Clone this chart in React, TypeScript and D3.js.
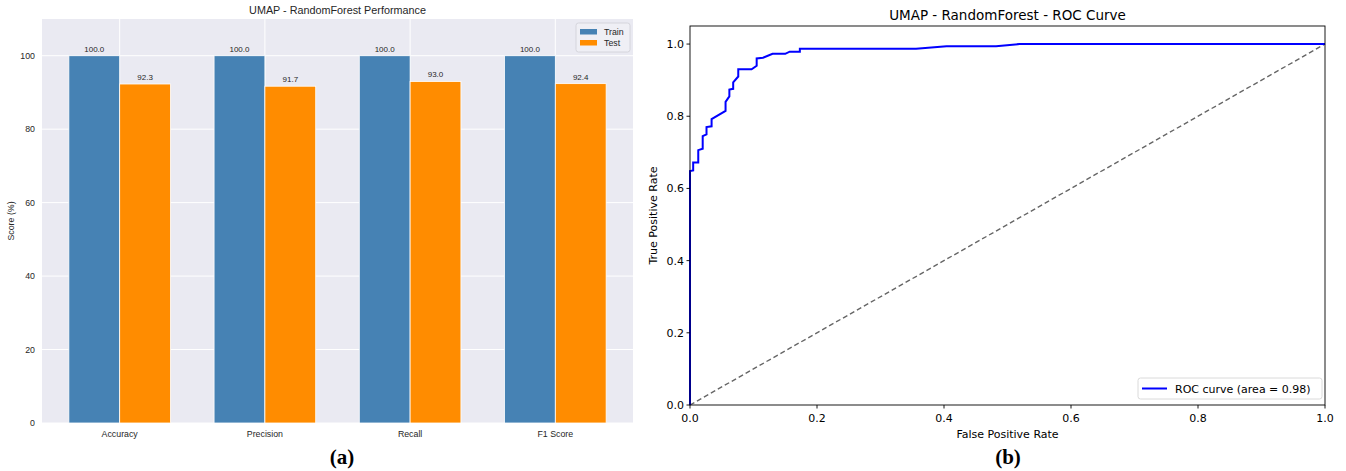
import React from "react";
import * as d3 from "d3";

// ---------- Data ----------
const categories = ["Accuracy", "Precision", "Recall", "F1 Score"];
const trainScores = [100.0, 100.0, 100.0, 100.0];
const testScores = [92.3, 91.7, 93.0, 92.4];
const scoreTicks = [0, 20, 40, 60, 80, 100];

const rocFpr = [0, 0, 0.005, 0.005, 0.013, 0.013, 0.02, 0.02, 0.026, 0.026, 0.034, 0.034, 0.056, 0.056, 0.062, 0.062, 0.068, 0.068, 0.076, 0.076, 0.097, 0.105, 0.105, 0.115, 0.13, 0.15, 0.157, 0.173, 0.173, 0.356, 0.404, 0.482, 0.519, 1.0];
const rocTpr = [0, 0.648, 0.65, 0.672, 0.672, 0.706, 0.71, 0.745, 0.75, 0.77, 0.772, 0.792, 0.815, 0.84, 0.855, 0.874, 0.876, 0.894, 0.91, 0.93, 0.93, 0.94, 0.96, 0.962, 0.973, 0.973, 0.979, 0.979, 0.987, 0.987, 0.994, 0.994, 1.0, 1.0];
const rocTicks = [0, 0.2, 0.4, 0.6, 0.8, 1.0];
const rocAuc = 0.98;

const TRAIN_COLOR = "#4682B4";
const TEST_COLOR = "#FF8C00";
const SANS = "'Liberation Sans', Arial, sans-serif";
const DEJAVU = "'DejaVu Sans', sans-serif";
const SERIF = "'Liberation Serif', 'Times New Roman', serif";

function BarPanel() {
  const x = d3.scaleLinear().domain([-0.535, 3.535]).range([42, 633]);
  const y = d3.scaleLinear().domain([0, 110]).range([423, 19]);
  const bw = 0.35;
  const unit = x(1) - x(0);
  const [x0, x1] = x.range();
  const [y0, y1] = y.range();
  const txt = "#262626";
  return (
    <g>
      <rect x={x0} y={y1} width={x1 - x0} height={y0 - y1} fill="#EAEAF2" />
      {scoreTicks.map((t) => (
        <line key={"hg" + t} x1={x0} x2={x1} y1={y(t)} y2={y(t)} stroke="#fff" strokeWidth={1} />
      ))}
      {categories.map((c, i) => (
        <line key={"vg" + c} x1={x(i)} x2={x(i)} y1={y0} y2={y1} stroke="#fff" strokeWidth={1} />
      ))}
      {categories.map((c, i) => (
        <g key={"b" + c}>
          <rect x={x(i - bw)} y={y(trainScores[i])} width={bw * unit} height={y(0) - y(trainScores[i])} fill={TRAIN_COLOR} stroke="#fff" strokeWidth={0.8} />
          <rect x={x(i)} y={y(testScores[i])} width={bw * unit} height={y(0) - y(testScores[i])} fill={TEST_COLOR} stroke="#fff" strokeWidth={0.8} />
          <text x={x(i - bw / 2)} y={y(trainScores[i]) - 4} textAnchor="middle" fontFamily={SANS} fontSize={8} fill={txt}>{trainScores[i].toFixed(1)}</text>
          <text x={x(i + bw / 2)} y={y(testScores[i]) - 4} textAnchor="middle" fontFamily={SANS} fontSize={8} fill={txt}>{testScores[i].toFixed(1)}</text>
          <text x={x(i)} y={y0 + 14} textAnchor="middle" fontFamily={SANS} fontSize={8.8} fill={txt}>{c}</text>
        </g>
      ))}
      {scoreTicks.map((t) => (
        <text key={"yt" + t} x={x0 - 7} y={y(t) + 3} textAnchor="end" fontFamily={SANS} fontSize={8.8} fill={txt}>{t}</text>
      ))}
      <text transform={`translate(14,${(y0 + y1) / 2}) rotate(-90)`} textAnchor="middle" fontFamily={SANS} fontSize={8.8} fill={txt}>Score (%)</text>
      <text x={(x0 + x1) / 2} y={14} textAnchor="middle" fontFamily={SANS} fontSize={10.8} fill={txt}>UMAP - RandomForest Performance</text>
      {/* legend */}
      <g>
        <rect x={576} y={23} width={54} height={29} rx={2.5} fill="#EFEFF5" stroke="#cfcfd6" strokeWidth={0.8} />
        <rect x={580} y={29} width={17} height={5.5} fill={TRAIN_COLOR} />
        <text x={604} y={34.5} fontFamily={SANS} fontSize={8.8} fill={txt}>Train</text>
        <rect x={580} y={40} width={17} height={5.5} fill={TEST_COLOR} />
        <text x={604} y={45.5} fontFamily={SANS} fontSize={8.8} fill={txt}>Test</text>
      </g>
      <text x={342} y={464} textAnchor="middle" fontFamily={SERIF} fontWeight="bold" fontSize={21} fill="#000">(a)</text>
    </g>
  );
}

function RocPanel() {
  const x = d3.scaleLinear().domain([0, 1]).range([690, 1325]);
  const y = d3.scaleLinear().domain([0, 1.05]).range([405, 26]);
  const [x0, x1] = x.range();
  const [y0, y1] = y.range();
  const pts: [number, number][] = rocFpr.map((f, i) => [f, rocTpr[i]]);
  const line = d3.line<[number, number]>().x((d) => x(d[0])).y((d) => y(d[1]));
  const ticks = rocTicks.map((t) => ({ v: t, s: d3.format(".1f")(t) }));
  return (
    <g>
      <line x1={x(0)} y1={y(0)} x2={x(1)} y2={y(1)} stroke="#666" strokeWidth={1.4} strokeDasharray="5,3" />
      <path d={line(pts) || ""} fill="none" stroke="#0000FF" strokeWidth={2} strokeLinejoin="miter" />
      <rect x={x0} y={y1} width={x1 - x0} height={y0 - y1} fill="none" stroke="#000" strokeWidth={0.9} />
      {ticks.map((t) => (
        <g key={"xt" + t.v}>
          <line x1={x(t.v)} x2={x(t.v)} y1={y0} y2={y0 + 3.5} stroke="#000" strokeWidth={0.9} />
          <text x={x(t.v)} y={y0 + 17} textAnchor="middle" fontFamily={DEJAVU} fontSize={11} fill="#000">{t.s}</text>
        </g>
      ))}
      {ticks.map((t) => (
        <g key={"yt" + t.v}>
          <line x1={x0 - 3.5} x2={x0} y1={y(t.v)} y2={y(t.v)} stroke="#000" strokeWidth={0.9} />
          <text x={x0 - 6} y={y(t.v) + 4} textAnchor="end" fontFamily={DEJAVU} fontSize={11} fill="#000">{t.s}</text>
        </g>
      ))}
      <text x={(x0 + x1) / 2} y={438} textAnchor="middle" fontFamily={DEJAVU} fontSize={11} fill="#000">False Positive Rate</text>
      <text transform={`translate(657,${(y0 + y1) / 2}) rotate(-90)`} textAnchor="middle" fontFamily={DEJAVU} fontSize={11} fill="#000">True Positive Rate</text>
      <text x={(x0 + x1) / 2} y={20} textAnchor="middle" fontFamily={DEJAVU} fontSize={13.5} fill="#000">UMAP - RandomForest - ROC Curve</text>
      <g>
        <rect x={1138} y={378} width={184} height={21} rx={2.5} fill="#fff" fillOpacity={0.8} stroke="#d0d0d0" strokeWidth={0.8} />
        <line x1={1142} x2={1167} y1={388.5} y2={388.5} stroke="#0000FF" strokeWidth={2} />
        <text x={1175} y={392.5} fontFamily={DEJAVU} fontSize={11} fill="#000">{`ROC curve (area = ${rocAuc.toFixed(2)})`}</text>
      </g>
      <text x={1008} y={464} textAnchor="middle" fontFamily={SERIF} fontWeight="bold" fontSize={21} fill="#000">(b)</text>
    </g>
  );
}

export default function App() {
  return (
    <svg width={1346} height={471} style={{ position: "absolute", left: 0, top: 0, background: "#fff" }}>
      <rect x={0} y={0} width={1346} height={471} fill="#fff" />
      <BarPanel />
      <RocPanel />
    </svg>
  );
}
